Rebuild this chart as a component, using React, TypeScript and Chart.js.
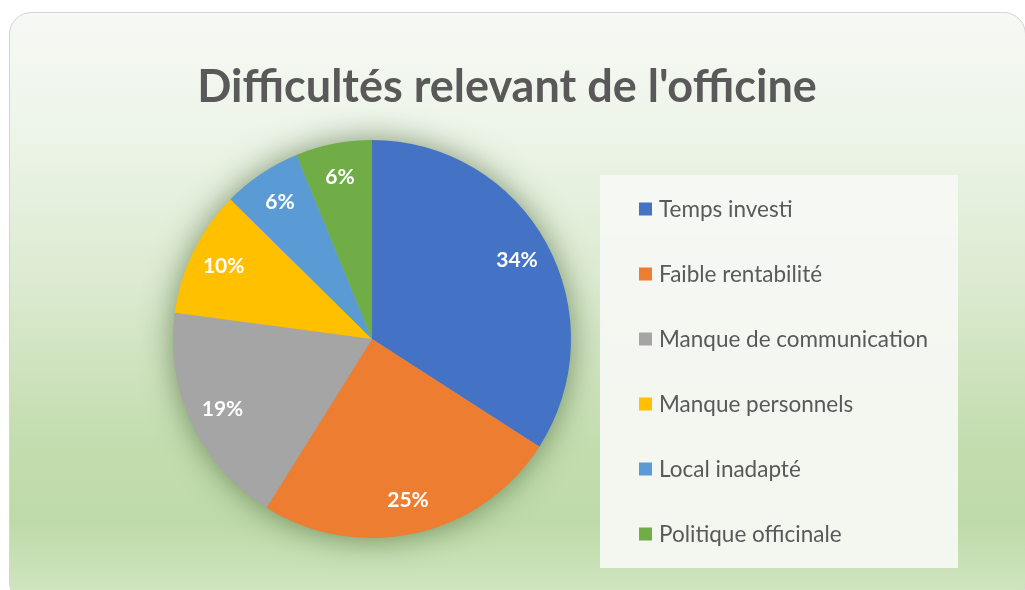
import { useEffect, useRef } from "react";
import { Chart, registerables } from "chart.js";

Chart.register(...registerables);

const chartTitle = "Difficultés relevant de l'officine";
const categories = [
  "Temps investi",
  "Faible rentabilité",
  "Manque de communication",
  "Manque personnels",
  "Local inadapté",
  "Politique officinale",
];
const values = [34.1, 24.8, 18.2, 10.3, 6.4, 6.2];
const percentLabels = ["34%", "25%", "19%", "10%", "6%", "6%"];
const colors = ["#4472C4", "#ED7D31", "#A5A5A5", "#FFC000", "#5B9BD5", "#70AD47"];

const FONT = "Lato, 'Noto Sans', 'DejaVu Sans', sans-serif";

function roundRectPath(ctx: CanvasRenderingContext2D, x: number, y: number, w: number, h: number, r: number) {
  ctx.beginPath();
  ctx.moveTo(x + r, y);
  ctx.lineTo(x + w - r, y);
  ctx.arcTo(x + w, y, x + w, y + r, r);
  ctx.lineTo(x + w, y + h - r);
  ctx.arcTo(x + w, y + h, x + w - r, y + h, r);
  ctx.lineTo(x + r, y + h);
  ctx.arcTo(x, y + h, x, y + h - r, r);
  ctx.lineTo(x, y + r);
  ctx.arcTo(x, y, x + r, y, r);
  ctx.closePath();
}

const backgroundPlugin = {
  id: "bgFrame",
  beforeDraw(chart: any) {
    const { ctx, width, height } = chart;
    ctx.save();
    ctx.fillStyle = "#ffffff";
    ctx.fillRect(0, 0, width, height);
    const x = 9.5, y = 12.5, w = 1016, h = 592, r = 22;
    const g = ctx.createLinearGradient(0, y, 0, y + h);
    g.addColorStop(0, "#f6f9f4");
    g.addColorStop(0.18, "#eef5ea");
    g.addColorStop(0.45, "#dcebd1");
    g.addColorStop(0.72, "#c4ddb0");
    g.addColorStop(0.86, "#bfdaa9");
    g.addColorStop(1, "#d2e7c4");
    roundRectPath(ctx, x, y, w, h, r);
    ctx.fillStyle = g;
    ctx.fill();
    ctx.strokeStyle = "#d4d4d4";
    ctx.lineWidth = 1;
    ctx.stroke();
    ctx.restore();
  },
};

const pieShadowPlugin = {
  id: "pieShadow",
  beforeDatasetsDraw(chart: any) {
    const arc = chart.getDatasetMeta(0).data[0];
    if (!arc) return;
    const { x, y, outerRadius } = arc.getProps(["x", "y", "outerRadius"], true);
    const { ctx } = chart;
    ctx.save();
    ctx.shadowColor = "rgba(45, 75, 25, 0.6)";
    ctx.shadowBlur = 32;
    ctx.fillStyle = "#a5a5a5";
    ctx.beginPath();
    ctx.arc(x, y, outerRadius - 1, 0, Math.PI * 2);
    ctx.fill();
    ctx.restore();
  },
};

const sliceLabelPlugin = {
  id: "sliceLabels",
  afterDatasetsDraw(chart: any) {
    const { ctx } = chart;
    const meta = chart.getDatasetMeta(0);
    ctx.save();
    ctx.fillStyle = "#ffffff";
    ctx.font = `bold 21px ${FONT}`;
    ctx.textAlign = "center";
    ctx.textBaseline = "middle";
    meta.data.forEach((arc: any, i: number) => {
      const { x, y, startAngle, endAngle, outerRadius } = arc.getProps(
        ["x", "y", "startAngle", "endAngle", "outerRadius"],
        true
      );
      const mid = (startAngle + endAngle) / 2;
      const r = outerRadius * 0.83;
      ctx.fillText(percentLabels[i], x + Math.cos(mid) * r, y + Math.sin(mid) * r);
    });
    ctx.restore();
  },
};

const titleLegendPlugin = {
  id: "titleLegend",
  afterDraw(chart: any) {
    const { ctx } = chart;
    ctx.save();
    // title
    ctx.fillStyle = "#595959";
    ctx.font = `bold 45px ${FONT}`;
    ctx.textAlign = "center";
    ctx.textBaseline = "alphabetic";
    ctx.fillText(chartTitle, 507, 102);
    // legend box
    const bx = 600, by = 175, bw = 358, bh = 393;
    ctx.fillStyle = "rgba(246, 249, 244, 0.93)";
    ctx.fillRect(bx, by, bw, bh);
    const ds = chart.data.datasets[0];
    ctx.font = `22.5px ${FONT}`;
    ctx.textAlign = "left";
    ctx.textBaseline = "middle";
    chart.data.labels.forEach((label: string, i: number) => {
      const cy = by + 34 + i * 65;
      ctx.fillStyle = ds.backgroundColor[i];
      ctx.fillRect(bx + 39, cy - 6.5, 13, 13);
      ctx.fillStyle = "#595959";
      ctx.fillText(label, bx + 59, cy + 1);
    });
    ctx.restore();
  },
};

export default function App() {
  const canvasRef = useRef<HTMLCanvasElement | null>(null);

  useEffect(() => {
    if (!canvasRef.current) return;
    const chart = new Chart(canvasRef.current, {
      type: "pie",
      data: {
        labels: categories,
        datasets: [
          {
            data: values,
            backgroundColor: colors,
            borderWidth: 0,
          },
        ],
      },
      options: {
        responsive: false,
        animation: false,
        layout: { padding: { left: 0, right: 281, top: 140, bottom: 52 } },
        plugins: {
          legend: { display: false },
          title: { display: false },
          tooltip: { enabled: false },
        },
      },
      plugins: [backgroundPlugin, pieShadowPlugin, sliceLabelPlugin, titleLegendPlugin],
    });
    return () => chart.destroy();
  }, []);

  return (
    <div style={{ position: "fixed", left: 0, top: 0, width: 1025, height: 590 }}>
      <canvas ref={canvasRef} width={1025} height={590} style={{ width: 1025, height: 590, display: "block" }} />
    </div>
  );
}
